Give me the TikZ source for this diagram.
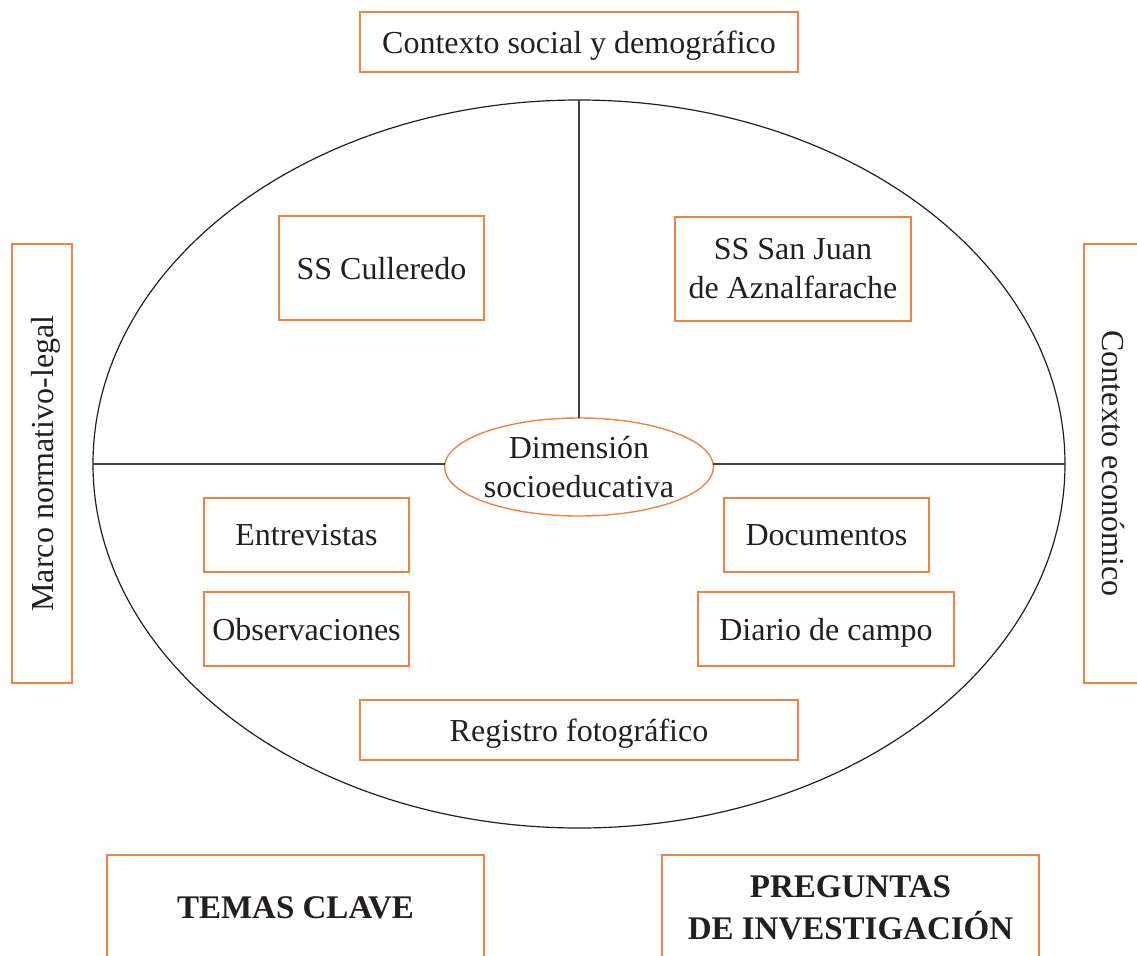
\documentclass[tikz,border=0pt]{standalone}
\usepackage{fontspec}
\setmainfont{Liberation Serif}
\usepackage{xcolor}
\usepackage{tikz}
\usetikzlibrary{positioning}
\usetikzlibrary{shapes.geometric}
\definecolor{naranja}{RGB}{241,130,70}
\definecolor{tinta}{RGB}{35,31,32}
\begin{document}
\begin{tikzpicture}[x=0.5pt,y=-0.5pt,
	caja/.style={draw=naranja,line width=0.7pt,inner sep=0pt,outer sep=0pt,align=center,text=tinta,font=\fontsize{16}{19.5}\selectfont},
	linea/.style={caja,text depth=0pt},
	titulo/.style={caja,font=\fontsize{16.5}{21}\selectfont\bfseries},
	eje/.style={draw=tinta!85,line width=0.6pt}]
	\useasboundingbox (0,0) rectangle (1137,955);
	\node[ellipse,draw=tinta,line width=0.6pt,inner sep=0pt,outer sep=0pt,minimum width=486pt,minimum height=364pt] (marco) at (579,464) {};
	\node[caja,ellipse,minimum width=118.5pt,minimum height=49pt] (dimension) at (579,467) {Dimensión\\socioeducativa};
	\draw[eje] (marco.north) -- (dimension.north);
	\draw[eje] (marco.west) -- (marco.west -| dimension.west);
	\draw[eje] (marco.east -| dimension.east) -- (marco.east);
	\node[linea,minimum width=219pt,minimum height=30pt] (social) at (579,42) {Contexto social y demográfico};
	\node[linea,rotate=90,minimum width=219.5pt,minimum height=30pt] (legal) at (42,463.5) {Marco normativo-legal};
	\node[linea,rotate=-90,minimum width=219.5pt,minimum height=30pt] (economico) at (1114,463.5) {Contexto económico};
	\node[linea,minimum width=102.5pt,minimum height=52pt] (culleredo) at (381.5,268) {SS Culleredo};
	\node[caja,minimum width=118pt,minimum height=52pt] (sanjuan) at (793,269) {SS San Juan\\de Aznalfarache};
	\node[linea,minimum width=102.5pt,minimum height=37pt] (entrevistas) at (306.5,535) {Entrevistas};
	\node[linea,minimum width=102.5pt,minimum height=37pt] (documentos) at (826.5,535) {Documentos};
	\node[linea,minimum width=102.5pt,minimum height=37pt] (observaciones) at (306.5,629) {Observaciones};
	\node[linea,minimum width=128pt,minimum height=37pt] (diario) at (826,629) {Diario de campo};
	\node[linea,minimum width=219pt,minimum height=30pt] (registro) at (579,730) {Registro fotográfico};
	\node[titulo,minimum width=188.5pt,minimum height=53pt] (temas) at (295.5,908) {TEMAS CLAVE};
	\node[titulo,minimum width=188.5pt,minimum height=53pt] (preguntas) at (850.5,908) {PREGUNTAS\\DE INVESTIGACIÓN};
\end{tikzpicture}
\end{document}
